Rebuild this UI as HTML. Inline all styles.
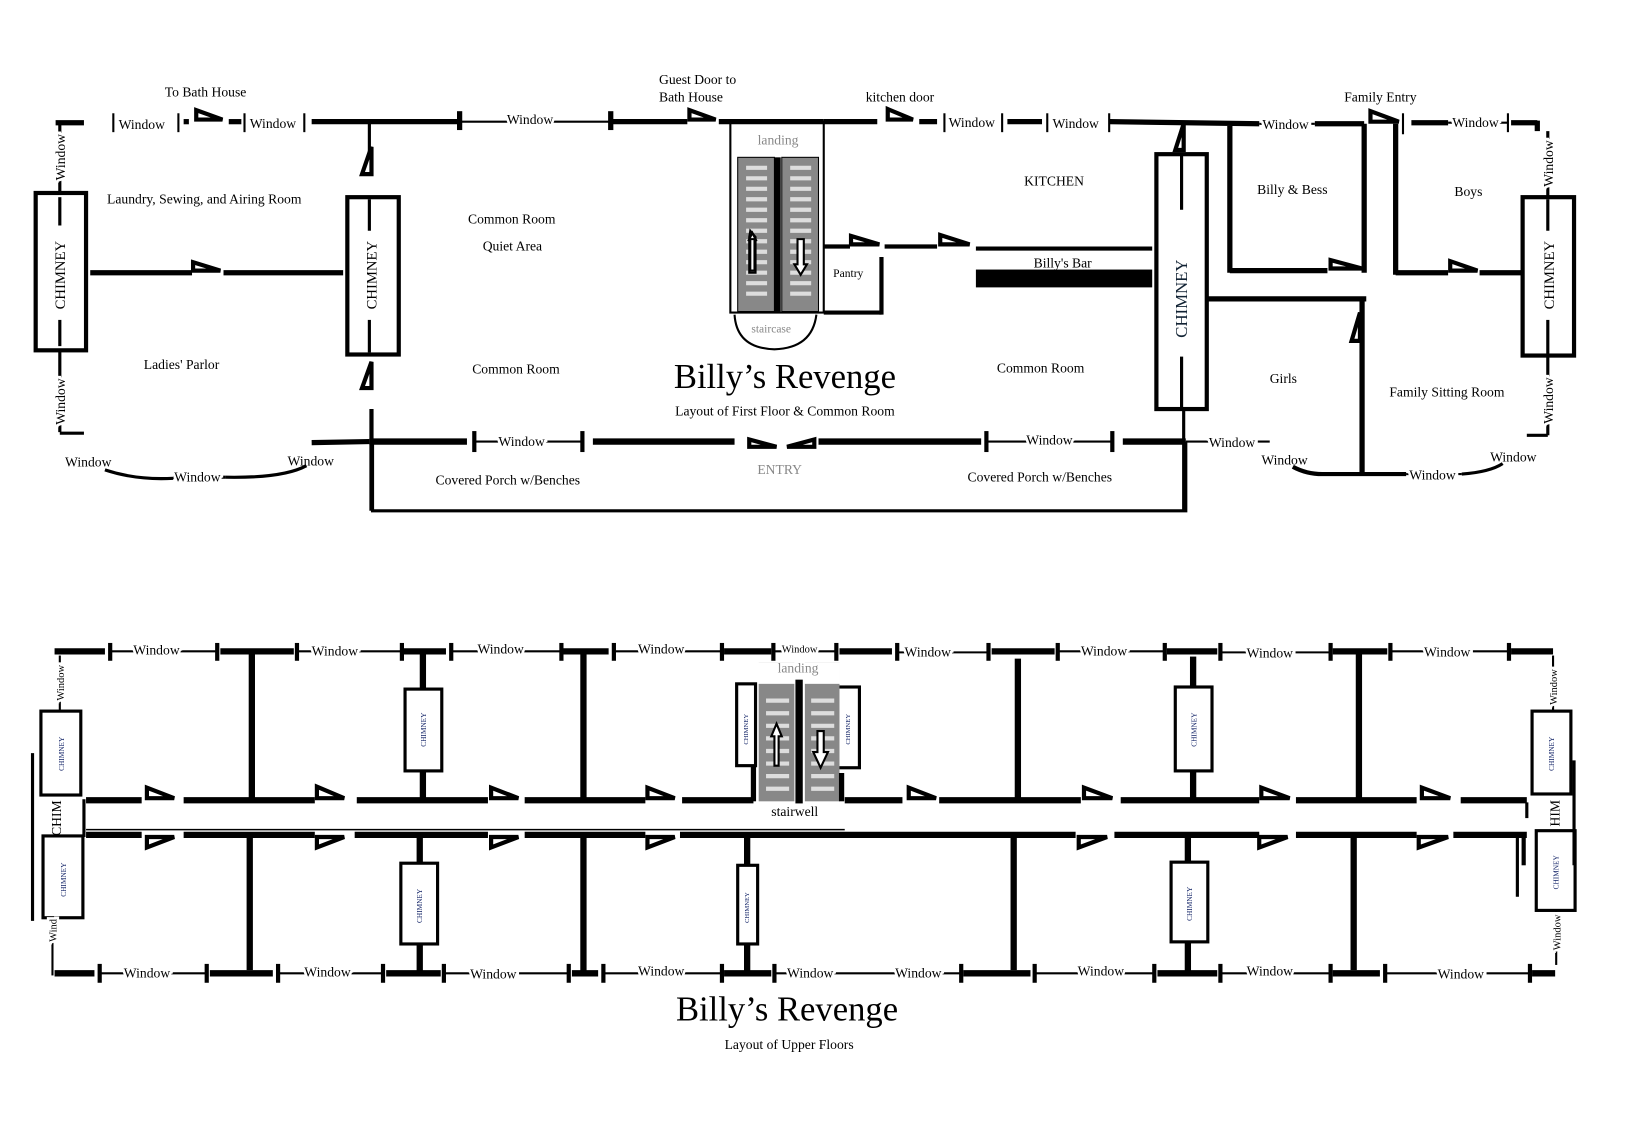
<!DOCTYPE html>
<html><head><meta charset="utf-8"><style>
html,body{margin:0;padding:0;background:#fff;}
svg{display:block;}
text{font-family:"Liberation Serif",serif;font-size:13px;fill:#000;}
.w{paint-order:stroke;stroke:#fff;stroke-width:5px;}
.g{fill:#888;}
.sc{font-size:14px;fill:#126;}
</style></head><body>
<svg width="1637" height="1138" viewBox="0 0 1560 1085" preserveAspectRatio="none" xmlns="http://www.w3.org/2000/svg">
<defs>
<g id="stairs">
<rect x="0" y="0" width="35" height="147" fill="#888"/>
<g stroke="#ddd" stroke-width="4">
<line x1="8" y1="10" x2="28" y2="10"/><line x1="8" y1="20" x2="28" y2="20"/><line x1="8" y1="30" x2="28" y2="30"/><line x1="8" y1="40" x2="28" y2="40"/><line x1="8" y1="50" x2="28" y2="50"/><line x1="8" y1="60" x2="28" y2="60"/><line x1="8" y1="70" x2="28" y2="70"/><line x1="8" y1="80" x2="28" y2="80"/><line x1="8" y1="90" x2="28" y2="90"/><line x1="8" y1="100" x2="28" y2="100"/><line x1="8" y1="110" x2="28" y2="110"/><line x1="8" y1="120" x2="28" y2="120"/><line x1="8" y1="130" x2="28" y2="130"/>
</g>
</g>
</defs>
<g stroke="#000" fill="none" stroke-linecap="butt">

<g stroke-width="5">
<line x1="53" y1="117" x2="80" y2="117"/>
<line x1="297" y1="116" x2="436" y2="116"/>
<line x1="582" y1="116" x2="655" y2="116"/>
<line x1="685" y1="116" x2="785" y2="116"/>
<line x1="785" y1="116" x2="836" y2="116"/>
<line x1="876" y1="116" x2="893" y2="116"/>
<line x1="960" y1="116" x2="993" y2="116"/>
<line x1="1057" y1="116" x2="1200" y2="118"/>
<line x1="1253" y1="118" x2="1300" y2="118"/>
<line x1="1345" y1="117" x2="1380" y2="117"/>
<line x1="1440" y1="117" x2="1465" y2="117"/>
<line x1="1465" y1="115" x2="1465" y2="125"/>
<line x1="175" y1="116" x2="180" y2="116"/>
<line x1="218" y1="116" x2="230" y2="116"/>
</g>
<g stroke-width="2">
<line x1="108" y1="108" x2="108" y2="126"/><line x1="170" y1="108" x2="170" y2="126"/>
<line x1="233" y1="108" x2="233" y2="126"/><line x1="290" y1="108" x2="290" y2="126"/>
<line x1="440" y1="116" x2="582" y2="116"/>
<line x1="900" y1="108" x2="900" y2="126"/><line x1="955" y1="108" x2="955" y2="126"/>
<line x1="998" y1="108" x2="998" y2="126"/><line x1="1057" y1="108" x2="1057" y2="126"/>
<line x1="1200" y1="118" x2="1253" y2="118"/>
<line x1="1380" y1="117" x2="1437" y2="117"/>
<line x1="1337" y1="108" x2="1337" y2="128"/>
<line x1="1437" y1="108" x2="1437" y2="126"/>
</g>
<g stroke-width="5">
<line x1="438" y1="106" x2="438" y2="124"/><line x1="582" y1="106" x2="582" y2="124"/>
</g>
<g stroke-width="4" fill="#fff">
<polygon points="187,114 187,105 212,114"/>
<polygon points="657,114 657,105 682,114"/>
<polygon points="846,114 846,104 870,114"/>
<polygon points="1306,116 1306,106 1333,116"/>
</g>
<rect x="34" y="184" width="48" height="150" stroke-width="4"/>
<g stroke-width="3">
<line x1="57" y1="117" x2="57" y2="184"/>
<line x1="57" y1="188" x2="57" y2="215"/><line x1="57" y1="305" x2="57" y2="330"/>
<line x1="57" y1="334" x2="57" y2="412"/>
<line x1="57" y1="413" x2="80" y2="413"/>
</g>
<path d="M 100 448 Q 130 458 165 456" stroke-width="3"/>
<line x1="165" y1="455" x2="215" y2="455" stroke-width="3"/>
<path d="M 215 455 Q 270 456 292 444" stroke-width="3"/>
<line x1="297" y1="422" x2="352" y2="421" stroke-width="5"/>
<line x1="86" y1="260" x2="183" y2="260" stroke-width="5"/>
<line x1="213" y1="260" x2="327" y2="260" stroke-width="5"/>
<polygon points="184,258 184,250 210,258" stroke-width="4" fill="#fff"/>
<rect x="331" y="188" width="49" height="150" stroke-width="4"/>
<line x1="352" y1="116" x2="352" y2="165" stroke-width="3"/>
<polygon points="354,140 354,166 345,166" stroke-width="4" fill="#fff"/>
<line x1="352" y1="190" x2="352" y2="220" stroke-width="3"/>
<line x1="352" y1="305" x2="352" y2="336" stroke-width="3"/>
<polygon points="354,345 354,370 345,370" stroke-width="4" fill="#fff"/>
<line x1="354" y1="390" x2="354" y2="487" stroke-width="4"/>
<g stroke-width="6">
<line x1="352" y1="421" x2="445" y2="421"/>
<line x1="565" y1="421" x2="700" y2="421"/>
<line x1="780" y1="421" x2="935" y2="421"/>
<line x1="1070" y1="421" x2="1130" y2="421"/>
</g>
<g stroke-width="2">
<line x1="452" y1="421" x2="555" y2="421"/>
<line x1="940" y1="421" x2="1060" y2="421"/>
<line x1="1130" y1="421" x2="1210" y2="421"/>
</g>
<g stroke-width="4">
<line x1="452" y1="411" x2="452" y2="431"/><line x1="555" y1="411" x2="555" y2="431"/>
<line x1="940" y1="411" x2="940" y2="431"/><line x1="1060" y1="411" x2="1060" y2="431"/>
</g>
<g stroke-width="4" fill="#fff">
<polygon points="714,419 714,426 740,426"/>
<polygon points="776,419 776,426 750,426"/>
</g>
<polyline points="355,421 355,487 1130,487 1130,421" stroke-width="3"/>
<rect x="696" y="116" width="89" height="182" stroke-width="2"/>
<use href="#stairs" x="703" y="150"/>
<use href="#stairs" x="745" y="150"/>
<rect x="738" y="150" width="6" height="147" fill="#000" stroke="none"/>
<path d="M 715 220 L 720 226 L 720 260 L 714 260 L 714 226 Z" stroke-width="2" fill="#fff"/>
<path d="M 715 228 L 719 228 L 719 258 L 715 258 Z M 713 230 L 717 222 L 721 230" stroke-width="2"/>
<path d="M 760 228 L 766 228 L 766 252 L 769 252 L 763 262 L 757 252 L 760 252 Z" stroke-width="2" fill="#fff"/>
<path d="M 700 300 Q 702 332 738 333 Q 774 332 778 300" stroke-width="2"/>
<g stroke-width="4">
<line x1="785" y1="235" x2="810" y2="235"/>
<line x1="843" y1="235" x2="893" y2="235"/>
<line x1="930" y1="237" x2="1098" y2="237"/>
<line x1="840" y1="245" x2="840" y2="300"/>
<line x1="785" y1="298" x2="840" y2="298"/>
</g>
<g stroke-width="4" fill="#fff">
<polygon points="811,233 811,225 838,233"/>
<polygon points="896,233 896,224 924,233"/>
</g>
<rect x="930" y="257" width="168" height="17" fill="#000" stroke="none"/>
<rect x="1102" y="147" width="48" height="243" stroke-width="4"/>
<line x1="1126" y1="147" x2="1126" y2="200" stroke-width="3"/>
<line x1="1126" y1="340" x2="1126" y2="390" stroke-width="3"/>
<polygon points="1128,118 1128,143 1120,143" stroke-width="4" fill="#fff"/>
<line x1="1128" y1="390" x2="1128" y2="487" stroke-width="3"/>
<g stroke-width="5">
<line x1="1172" y1="120" x2="1172" y2="260"/>
<line x1="1172" y1="258" x2="1265" y2="258"/>
<line x1="1300" y1="118" x2="1300" y2="260"/>
<line x1="1330" y1="118" x2="1330" y2="262"/>
<line x1="1330" y1="260" x2="1380" y2="260"/>
<line x1="1410" y1="260" x2="1450" y2="260"/>
<line x1="1150" y1="285" x2="1302" y2="285"/>
<line x1="1298" y1="285" x2="1298" y2="452"/>
</g>
<g stroke-width="4" fill="#fff">
<polygon points="1268,256 1268,248 1298,256"/>
<polygon points="1382,258 1382,249 1408,258"/>
<polygon points="1296,298 1296,325 1288,325"/>
</g>
<rect x="1451" y="188" width="49" height="151" stroke-width="4"/>
<g stroke-width="3">
<line x1="1475" y1="125" x2="1475" y2="188"/>
<line x1="1475" y1="190" x2="1475" y2="220"/><line x1="1475" y1="305" x2="1475" y2="339"/>
<line x1="1475" y1="340" x2="1475" y2="415"/>
<line x1="1455" y1="415" x2="1475" y2="415"/>
</g>
<path d="M 1232 445 Q 1245 452 1260 452 L 1340 452" stroke-width="4"/>
<path d="M 1393 452 Q 1420 450 1432 442" stroke-width="3"/>
<line x1="1340" y1="452" x2="1393" y2="452" stroke-width="2"/>

<g stroke-width="6">
<line x1="52" y1="621" x2="100" y2="621"/>
<line x1="210" y1="621" x2="280" y2="621"/>
<line x1="385" y1="621" x2="425" y2="621"/>
<line x1="537" y1="621" x2="580" y2="621"/>
<line x1="690" y1="621" x2="735" y2="621"/>
<line x1="800" y1="621" x2="850" y2="621"/>
<line x1="945" y1="621" x2="1005" y2="621"/>
<line x1="1112" y1="621" x2="1160" y2="621"/>
<line x1="1270" y1="621" x2="1322" y2="621"/>
<line x1="1440" y1="621" x2="1480" y2="621"/>
</g>
<g stroke-width="2">
<line x1="105" y1="621" x2="207" y2="621"/>
<line x1="283" y1="621" x2="383" y2="621"/>
<line x1="430" y1="621" x2="535" y2="621"/>
<line x1="585" y1="621" x2="688" y2="621"/>
<line x1="737" y1="621" x2="797" y2="621"/>
<line x1="855" y1="622" x2="942" y2="622"/>
<line x1="1008" y1="621" x2="1110" y2="621"/>
<line x1="1163" y1="622" x2="1268" y2="622"/>
<line x1="1325" y1="621" x2="1438" y2="621"/>
</g>
<g stroke-width="4">
<line x1="105" y1="613" x2="105" y2="630"/><line x1="207" y1="613" x2="207" y2="630"/>
<line x1="283" y1="613" x2="283" y2="630"/><line x1="383" y1="613" x2="383" y2="630"/>
<line x1="430" y1="613" x2="430" y2="630"/><line x1="535" y1="613" x2="535" y2="630"/>
<line x1="585" y1="613" x2="585" y2="630"/><line x1="688" y1="613" x2="688" y2="630"/>
<line x1="737" y1="613" x2="737" y2="630"/><line x1="797" y1="613" x2="797" y2="630"/>
<line x1="855" y1="613" x2="855" y2="630"/><line x1="942" y1="613" x2="942" y2="630"/>
<line x1="1008" y1="613" x2="1008" y2="630"/><line x1="1110" y1="613" x2="1110" y2="630"/>
<line x1="1163" y1="613" x2="1163" y2="630"/><line x1="1268" y1="613" x2="1268" y2="630"/>
<line x1="1325" y1="613" x2="1325" y2="630"/><line x1="1438" y1="613" x2="1438" y2="630"/>
</g>
<g stroke-width="6">
<line x1="52" y1="928" x2="90" y2="928"/>
<line x1="200" y1="928" x2="260" y2="928"/>
<line x1="368" y1="928" x2="420" y2="928"/>
<line x1="545" y1="928" x2="570" y2="928"/>
<line x1="690" y1="928" x2="735" y2="928"/>
<line x1="918" y1="928" x2="982" y2="928"/>
<line x1="1103" y1="928" x2="1160" y2="928"/>
<line x1="1270" y1="928" x2="1315" y2="928"/>
<line x1="1460" y1="928" x2="1482" y2="928"/>
</g>
<g stroke-width="2">
<line x1="95" y1="928" x2="197" y2="928"/>
<line x1="265" y1="928" x2="365" y2="928"/>
<line x1="423" y1="928" x2="542" y2="928"/>
<line x1="575" y1="928" x2="688" y2="928"/>
<line x1="738" y1="928" x2="916" y2="928"/>
<line x1="986" y1="928" x2="1100" y2="928"/>
<line x1="1163" y1="928" x2="1268" y2="928"/>
<line x1="1320" y1="928" x2="1458" y2="928"/>
</g>
<g stroke-width="4">
<line x1="95" y1="919" x2="95" y2="937"/><line x1="197" y1="919" x2="197" y2="937"/>
<line x1="265" y1="919" x2="265" y2="937"/><line x1="365" y1="919" x2="365" y2="937"/>
<line x1="423" y1="919" x2="423" y2="937"/><line x1="542" y1="919" x2="542" y2="937"/>
<line x1="575" y1="919" x2="575" y2="937"/><line x1="688" y1="919" x2="688" y2="937"/>
<line x1="738" y1="919" x2="738" y2="937"/>
<line x1="916" y1="919" x2="916" y2="937"/><line x1="986" y1="919" x2="986" y2="937"/>
<line x1="1100" y1="919" x2="1100" y2="937"/><line x1="1163" y1="919" x2="1163" y2="937"/>
<line x1="1268" y1="919" x2="1268" y2="937"/><line x1="1320" y1="919" x2="1320" y2="937"/>
<line x1="1458" y1="919" x2="1458" y2="937"/>
</g>
<g stroke-width="6">
<line x1="82" y1="763" x2="135" y2="763"/>
<line x1="175" y1="763" x2="300" y2="763"/>
<line x1="340" y1="763" x2="465" y2="763"/>
<line x1="500" y1="763" x2="615" y2="763"/>
<line x1="650" y1="763" x2="718" y2="763"/>
<line x1="805" y1="763" x2="860" y2="763"/>
<line x1="895" y1="763" x2="1030" y2="763"/>
<line x1="1068" y1="763" x2="1200" y2="763"/>
<line x1="1235" y1="763" x2="1350" y2="763"/>
<line x1="1392" y1="763" x2="1455" y2="763"/>
<line x1="82" y1="796" x2="135" y2="796"/>
<line x1="175" y1="796" x2="300" y2="796"/>
<line x1="338" y1="796" x2="465" y2="796"/>
<line x1="500" y1="796" x2="615" y2="796"/>
<line x1="648" y1="796" x2="1025" y2="796"/>
<line x1="1062" y1="796" x2="1200" y2="796"/>
<line x1="1235" y1="796" x2="1350" y2="796"/>
<line x1="1385" y1="796" x2="1455" y2="796"/>
</g>
<line x1="80" y1="762" x2="80" y2="798" stroke-width="3"/>
<line x1="82" y1="791" x2="805" y2="791" stroke-width="1.5"/>
<line x1="1455" y1="765" x2="1455" y2="780" stroke-width="3"/>
<line x1="1452" y1="796" x2="1452" y2="825" stroke-width="4"/>
<g stroke-width="4" fill="#fff">
<polygon points="140,761 140,751 166,761"/>
<polygon points="302,761 302,750 328,761"/>
<polygon points="468,761 468,751 494,761"/>
<polygon points="617,761 617,751 643,761"/>
<polygon points="866,761 866,751 892,761"/>
<polygon points="1033,761 1033,751 1060,761"/>
<polygon points="1202,761 1202,751 1229,761"/>
<polygon points="1355,761 1355,751 1382,761"/>
<polygon points="140,798 140,808 166,798"/>
<polygon points="302,798 302,808 328,798"/>
<polygon points="468,798 468,808 494,798"/>
<polygon points="617,798 617,808 643,798"/>
<polygon points="1028,798 1028,808 1055,798"/>
<polygon points="1200,798 1200,808 1227,798"/>
<polygon points="1352,798 1352,808 1380,798"/>
</g>
<g stroke-width="6">
<line x1="240" y1="621" x2="240" y2="763"/>
<line x1="403" y1="621" x2="403" y2="656"/><line x1="403" y1="735" x2="403" y2="763"/>
<line x1="556" y1="621" x2="556" y2="763"/>
<line x1="970" y1="628" x2="970" y2="763"/>
<line x1="1137" y1="626" x2="1137" y2="655"/><line x1="1137" y1="735" x2="1137" y2="763"/>
<line x1="1295" y1="621" x2="1295" y2="763"/>
<line x1="238" y1="796" x2="238" y2="925"/>
<line x1="400" y1="796" x2="400" y2="823"/><line x1="400" y1="900" x2="400" y2="928"/>
<line x1="556" y1="796" x2="556" y2="928"/>
<line x1="712" y1="796" x2="712" y2="824"/><line x1="712" y1="900" x2="712" y2="928"/>
<line x1="966" y1="796" x2="966" y2="925"/>
<line x1="1132" y1="796" x2="1132" y2="822"/><line x1="1132" y1="898" x2="1132" y2="928"/>
<line x1="1290" y1="796" x2="1290" y2="925"/>
</g>
<g stroke-width="3">
<rect x="386" y="657" width="35" height="78"/>
<rect x="1120" y="655" width="35" height="80"/>
<rect x="382" y="823" width="35" height="77"/>
<rect x="1116" y="822" width="35" height="76"/>
<rect x="703" y="825" width="19" height="75"/>
<rect x="702" y="652" width="18" height="78"/>
<rect x="798" y="655" width="21" height="77"/>
<rect x="39" y="678" width="38" height="80"/>
<rect x="41" y="797" width="38" height="78"/>
<rect x="1460" y="678" width="37" height="79"/>
<rect x="1464" y="792" width="37" height="76"/>
</g>
<g stroke-width="2">
<line x1="57" y1="625" x2="57" y2="678"/>
<line x1="50" y1="875" x2="50" y2="930"/>
<line x1="31" y1="718" x2="31" y2="878" stroke-width="3"/>
<line x1="1480" y1="625" x2="1480" y2="678"/>
<line x1="1483" y1="868" x2="1483" y2="920"/>
<line x1="1500" y1="725" x2="1500" y2="825" stroke-width="3"/>
<line x1="1446" y1="795" x2="1446" y2="855" stroke-width="3"/>
</g>
<rect x="723" y="632" width="34" height="132" fill="#888" stroke="none"/>
<rect x="767" y="632" width="33" height="132" fill="#888" stroke="none"/>
<g stroke="#ddd" stroke-width="4">
<line x1="730" y1="668" x2="752" y2="668"/><line x1="730" y1="680" x2="752" y2="680"/><line x1="730" y1="692" x2="752" y2="692"/><line x1="730" y1="704" x2="752" y2="704"/><line x1="730" y1="716" x2="752" y2="716"/><line x1="730" y1="728" x2="752" y2="728"/><line x1="730" y1="740" x2="752" y2="740"/><line x1="730" y1="752" x2="752" y2="752"/>
<line x1="773" y1="668" x2="795" y2="668"/><line x1="773" y1="680" x2="795" y2="680"/><line x1="773" y1="692" x2="795" y2="692"/><line x1="773" y1="704" x2="795" y2="704"/><line x1="773" y1="716" x2="795" y2="716"/><line x1="773" y1="728" x2="795" y2="728"/><line x1="773" y1="740" x2="795" y2="740"/><line x1="773" y1="752" x2="795" y2="752"/>
</g>
<rect x="722" y="632" width="78" height="20" fill="#fff" stroke="none"/>
<rect x="758" y="648" width="7" height="118" fill="#000" stroke="none"/>
<path d="M 740 690 L 745 702 L 742 702 L 742 730 L 738 730 L 738 702 L 735 702 Z" stroke-width="2" fill="#fff"/>
<path d="M 779 697 L 785 697 L 785 717 L 789 717 L 782 732 L 775 717 L 779 717 Z" stroke-width="2" fill="#fff"/>
<line x1="718" y1="730" x2="718" y2="764" stroke-width="5"/>
<line x1="802" y1="737" x2="802" y2="764" stroke-width="5"/>
</g>

<g>
<text x="157" y="92">To Bath House</text>
<text x="628" y="80">Guest Door to</text>
<text x="628" y="97">Bath House</text>
<text x="825" y="97">kitchen door</text>
<text x="1281" y="97">Family Entry</text>
<text class="w" x="113" y="123">Window</text>
<text class="w" x="238" y="122">Window</text>
<text class="w" x="483" y="118">Window</text>
<text class="w" x="904" y="121">Window</text>
<text class="w" x="1003" y="122">Window</text>
<text class="w" x="1203" y="123">Window</text>
<text class="w" x="1384" y="121">Window</text>
<text x="102" y="194">Laundry, Sewing, and Airing Room</text>
<text x="446" y="213">Common Room</text>
<text x="460" y="239">Quiet Area</text>
<text x="137" y="352">Ladies' Parlor</text>
<text x="450" y="356">Common Room</text>
<text x="976" y="177">KITCHEN</text>
<text x="1198" y="185">Billy &amp; Bess</text>
<text x="1386" y="187">Boys</text>
<text x="985" y="255">Billy's Bar</text>
<text x="794" y="264" style="font-size:11px">Pantry</text>
<text x="950" y="355">Common Room</text>
<text x="1210" y="365">Girls</text>
<text x="1324" y="378">Family Sitting Room</text>
<text x="722" y="138" class="g">landing</text>
<text x="716" y="317" class="g" style="font-size:11px">staircase</text>
<text x="748" y="370" text-anchor="middle" style="font-size:33px">Billy’s Revenge</text>
<text x="748" y="396" text-anchor="middle">Layout of First Floor &amp; Common Room</text>
<text x="743" y="452" text-anchor="middle" class="g">ENTRY</text>
<text x="415" y="462">Covered Porch w/Benches</text>
<text x="922" y="459">Covered Porch w/Benches</text>
<text class="w" x="475" y="425">Window</text>
<text class="w" x="978" y="424">Window</text>
<text class="w" x="1152" y="426">Window</text>
<text x="62" y="445">Window</text>
<text class="w" x="166" y="459">Window</text>
<text x="274" y="444">Window</text>
<text x="1202" y="443">Window</text>
<text class="w" x="1343" y="457">Window</text>
<text x="1420" y="440">Window</text>
<text class="w" transform="translate(62,172) rotate(-90)">Window</text>
<text class="w" transform="translate(62,405) rotate(-90)">Window</text>
<text class="w" transform="translate(1480,178) rotate(-90)">Window</text>
<text class="w" transform="translate(1480,404) rotate(-90)">Window</text>
<text transform="translate(62,295) rotate(-90)" style="font-size:14px">CHIMNEY</text>
<text transform="translate(359,295) rotate(-90)" style="font-size:14px">CHIMNEY</text>
<text transform="translate(1131,322) rotate(-90)" style="font-size:16px;fill:#123">CHIMNEY</text>
<text transform="translate(1481,295) rotate(-90)" style="font-size:14px">CHIMNEY</text>

<text class="w" x="127" y="624">Window</text>
<text class="w" x="297" y="625">Window</text>
<text class="w" x="455" y="623">Window</text>
<text class="w" x="608" y="623">Window</text>
<text class="w" x="745" y="622" style="font-size:10px">Window</text>
<text class="w" x="862" y="626">Window</text>
<text class="w" x="1030" y="625">Window</text>
<text class="w" x="1188" y="627">Window</text>
<text class="w" x="1357" y="626">Window</text>
<text x="741" y="641" class="g">landing</text>
<text x="735" y="778">stairwell</text>
<text class="w" x="118" y="932">Window</text>
<text class="w" x="290" y="931">Window</text>
<text class="w" x="448" y="933">Window</text>
<text class="w" x="608" y="930">Window</text>
<text class="w" x="750" y="932">Window</text>
<text class="w" x="853" y="932">Window</text>
<text class="w" x="1027" y="930">Window</text>
<text class="w" x="1188" y="930">Window</text>
<text class="w" x="1370" y="933">Window</text>
<text class="w" transform="translate(61,668) rotate(-90)" style="font-size:10px">Window</text>
<text class="w" transform="translate(54,898) rotate(-90)" style="font-size:10px">Wind</text>
<text class="w" transform="translate(1484,672) rotate(-90)" style="font-size:10px">Window</text>
<text class="w" transform="translate(1487,906) rotate(-90)" style="font-size:10px">Window</text>
<text transform="translate(58,797) rotate(-90)" style="font-size:13px">CHIM</text>
<text transform="translate(1486,788) rotate(-90)" style="font-size:13px">HIM</text>
<text class="sc" transform="translate(61,735) rotate(-90) scale(0.5)">CHIMNEY</text>
<text class="sc" transform="translate(63,855) rotate(-90) scale(0.5)">CHIMNEY</text>
<text class="sc" transform="translate(1481,735) rotate(-90) scale(0.5)">CHIMNEY</text>
<text class="sc" transform="translate(1485,848) rotate(-90) scale(0.5)">CHIMNEY</text>
<text class="sc" transform="translate(406,712) rotate(-90) scale(0.5)">CHIMNEY</text>
<text class="sc" transform="translate(1140,712) rotate(-90) scale(0.5)">CHIMNEY</text>
<text class="sc" transform="translate(402,880) rotate(-90) scale(0.5)">CHIMNEY</text>
<text class="sc" transform="translate(1136,878) rotate(-90) scale(0.5)">CHIMNEY</text>
<text class="sc" transform="translate(714,880) rotate(-90) scale(0.45)">CHIMNEY</text>
<text class="sc" transform="translate(713,710) rotate(-90) scale(0.45)">CHIMNEY</text>
<text class="sc" transform="translate(810,710) rotate(-90) scale(0.45)">CHIMNEY</text>
<text x="750" y="973" text-anchor="middle" style="font-size:33px">Billy’s Revenge</text>
<text x="752" y="1000" text-anchor="middle">Layout of Upper Floors</text>
</g>
</svg>
</body></html>
